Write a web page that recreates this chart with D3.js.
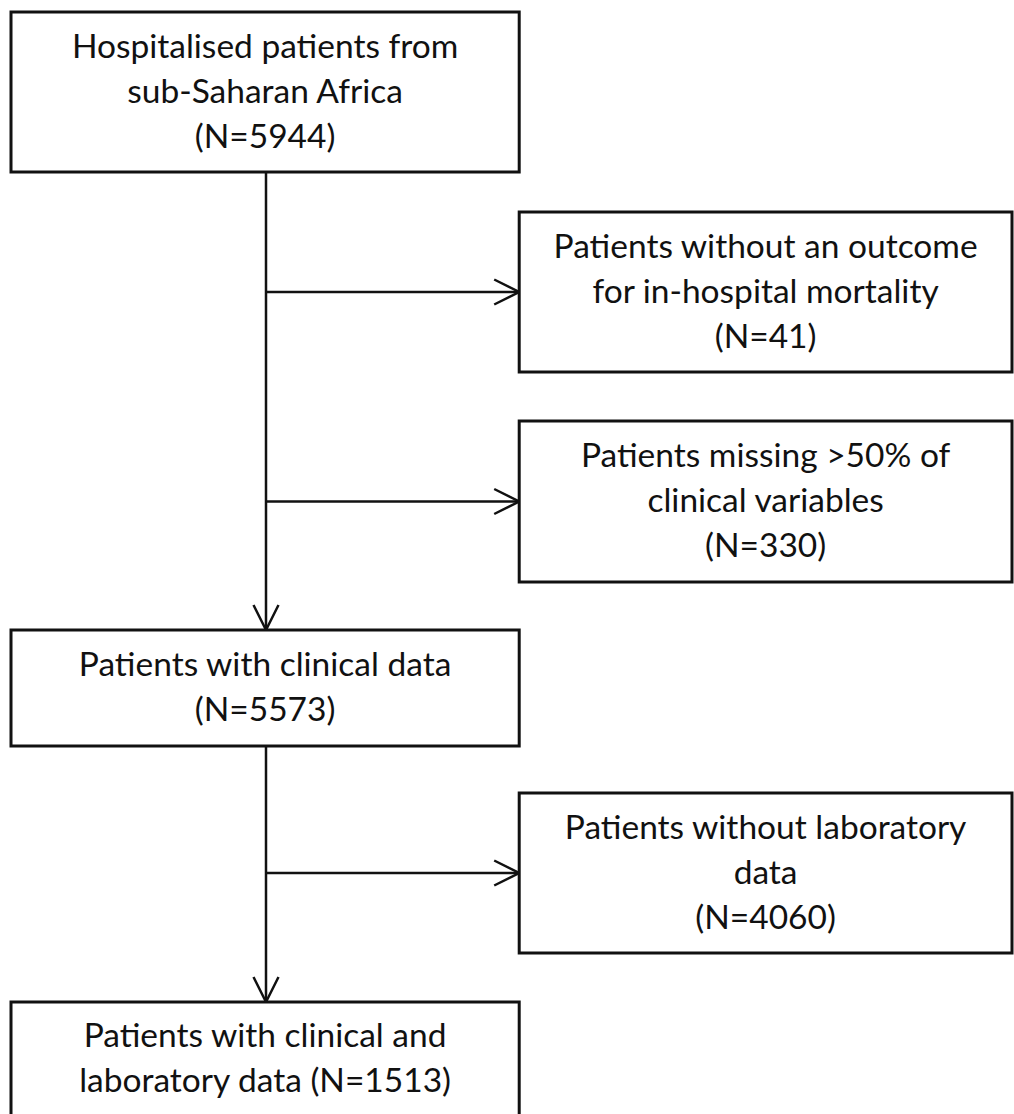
<!DOCTYPE html>
<html>
<head>
<meta charset="utf-8">
<script src="https://cdn.jsdelivr.net/npm/d3@7"></script>
<style>
  body { margin: 0; background: #fff; }
  svg { display: block; }
</style>
</head>
<body>
<div id="chart"></div>
<script>
const width = 1014;
const height = 1114;

// flow steps (main column) and exclusions (right column)
const mainLabels = [
    ['Hospitalised patients from', 'sub-Saharan Africa', '(N=5944)'],
    ['Patients with clinical data', '(N=5573)'],
    ['Patients with clinical and', 'laboratory data (N=1513)'],
];
const excludeLabels = [
    ['Patients without an outcome', 'for in-hospital mortality', '(N=41)'],
    ['Patients missing >50% of', 'clinical variables', '(N=330)'],
    ['Patients without laboratory', 'data', '(N=4060)'],
];

// vertical slots: [top, bottom] for each box
const mainRows = [[12, 172], [630, 746], [1002, 1118]];
const excludeRows = [[212, 372], [421, 582], [793, 953]];

const x = d3.scaleLinear().domain([0, 1]).range([11, 1012]);
const colSplit = 0.5077; // left column ends where right one starts
const spineX = 266;

const fontSize = 33.5;
const lineGap = 45;
const ink = '#111';

const svg = d3.select('#chart').append('svg')
    .attr('width', width)
    .attr('height', height);

function drawBox(x0, x1, row, lines) {
    const g = svg.append('g');
    g.append('rect')
        .attr('x', x0)
        .attr('y', row[0])
        .attr('width', x1 - x0)
        .attr('height', row[1] - row[0])
        .attr('fill', '#fff')
        .attr('stroke', ink)
        .attr('stroke-width', 3);

    const cx = (x0 + x1) / 2;
    const cy = (row[0] + Math.min(row[1], height + 2)) / 2;
    const n = lines.length;
    g.selectAll('text')
        .data(lines)
        .join('text')
        .attr('x', cx)
        .attr('y', (d, i) => cy + 10.5 + (i - (n - 1) / 2) * lineGap)
        .attr('text-anchor', 'middle')
        .style('font-family', 'Lato, "Open Sans", sans-serif')
        .style('font-size', fontSize + 'px')
        .attr('fill', ink)
        .text(d => d);
}

function arrowHead(tipX, tipY, dir) {
    const len = 25, half = 12.5;
    let pts;
    if (dir === 'right') {
        pts = [[tipX - len, tipY - half], [tipX, tipY], [tipX - len, tipY + half]];
    } else {
        pts = [[tipX - half, tipY - len], [tipX, tipY], [tipX + half, tipY - len]];
    }
    svg.append('path')
        .attr('d', d3.line()(pts))
        .attr('fill', 'none')
        .attr('stroke', ink)
        .attr('stroke-width', 2.5);
}

// spine between main steps
for (let i = 0; i < mainRows.length - 1; i++) {
    const y0 = mainRows[i][1];
    const y1 = mainRows[i + 1][0];
    svg.append('line')
        .attr('x1', spineX).attr('x2', spineX)
        .attr('y1', y0).attr('y2', y1)
        .attr('stroke', ink)
        .attr('stroke-width', 2.5);
    arrowHead(spineX, y1, 'down');
}

// branches to exclusion boxes
excludeRows.forEach((row) => {
    const yMid = (row[0] + row[1]) / 2;
    svg.append('line')
        .attr('x1', spineX).attr('x2', x(colSplit))
        .attr('y1', yMid).attr('y2', yMid)
        .attr('stroke', ink)
        .attr('stroke-width', 2.5);
    arrowHead(x(colSplit), yMid, 'right');
});

mainRows.forEach((row, i) => drawBox(x(0), x(colSplit), row, mainLabels[i]));
excludeRows.forEach((row, i) => drawBox(x(colSplit), x(1), row, excludeLabels[i]));
</script>
</body>
</html>
